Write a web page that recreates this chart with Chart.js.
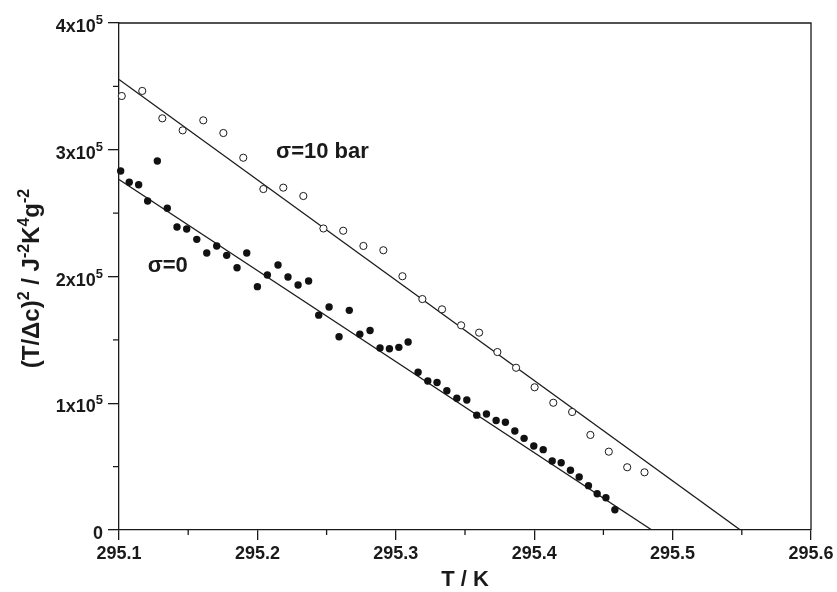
<!DOCTYPE html>
<html>
<head>
<meta charset="utf-8">
<script src="https://cdn.jsdelivr.net/npm/chart.js@4/dist/chart.umd.min.js"></script>
<style>
  html, body { margin: 0; padding: 0; background: #fff; }
  #wrap { width: 837px; height: 592px; }
</style>
</head>
<body>
<div id="wrap"><canvas id="chart" width="837" height="592"></canvas></div>
<script>
'use strict';

// sigma = 10 bar (open circles)
const tempOpen = [295.1020, 295.1168, 295.1313, 295.1460, 295.1609, 295.1754, 295.1898,
  295.2043, 295.2187, 295.2332, 295.2477, 295.2620, 295.2766, 295.2910, 295.3048,
  295.3192, 295.3334, 295.3472, 295.3602, 295.3734, 295.3869, 295.4003, 295.4138,
  295.4274, 295.4406, 295.4539, 295.4672, 295.4797];
const valOpen = [3.424e5, 3.464e5, 3.248e5, 3.153e5, 3.232e5, 3.132e5, 2.937e5,
  2.690e5, 2.701e5, 2.635e5, 2.379e5, 2.361e5, 2.241e5, 2.207e5, 2.002e5,
  1.822e5, 1.741e5, 1.615e5, 1.557e5, 1.404e5, 1.280e5, 1.126e5, 1.004e5,
  0.931e5, 0.750e5, 0.618e5, 0.495e5, 0.455e5];

// sigma = 0 (filled circles)
const tempFilled = [295.1012, 295.1074, 295.1142, 295.1207, 295.1277, 295.1349, 295.1419,
  295.1489, 295.1562, 295.1634, 295.1706, 295.1778, 295.1853, 295.1923, 295.2000,
  295.2072, 295.2149, 295.2221, 295.2294, 295.2370, 295.2443, 295.2518, 295.2590,
  295.2664, 295.2740, 295.2814, 295.2886, 295.2954, 295.3022, 295.3089, 295.3161,
  295.3231, 295.3298, 295.3369, 295.3441, 295.3513, 295.3585, 295.3655, 295.3725,
  295.3792, 295.3860, 295.3927, 295.3997, 295.4065, 295.4130, 295.4195, 295.4262,
  295.4325, 295.4392, 295.4455, 295.4518, 295.4583];
const valFilled = [2.832e5, 2.743e5, 2.724e5, 2.596e5, 2.911e5, 2.538e5, 2.391e5,
  2.375e5, 2.293e5, 2.185e5, 2.241e5, 2.167e5, 2.069e5, 2.185e5, 1.920e5,
  2.012e5, 2.091e5, 1.996e5, 1.933e5, 1.964e5, 1.695e5, 1.759e5, 1.525e5,
  1.733e5, 1.545e5, 1.574e5, 1.436e5, 1.430e5, 1.441e5, 1.483e5, 1.244e5,
  1.176e5, 1.164e5, 1.099e5, 1.040e5, 1.026e5, 0.906e5, 0.915e5, 0.864e5,
  0.850e5, 0.781e5, 0.723e5, 0.663e5, 0.634e5, 0.544e5, 0.531e5, 0.471e5,
  0.418e5, 0.350e5, 0.286e5, 0.255e5, 0.160e5];

// fitted straight lines
const fitOpenT = [295.1, 295.549];
const fitOpenV = [3.555e5, 0];
const fitFilledT = [295.1, 295.485];
const fitFilledV = [2.765e5, 0];

// ticks
const xMinor = [295.15, 295.25, 295.35, 295.45, 295.55];
const yMajor = [0, 1e5, 2e5, 3e5, 4e5];
const yMinor = [0.5e5, 1.5e5, 2.5e5, 3.5e5];
const yTickLabels = [['0', ''], ['1x10', '5'], ['2x10', '5'], ['3x10', '5'], ['4x10', '5']];

const FONT = '"Liberation Sans", Arial, Helvetica, sans-serif';
const INK = '#1a1a1a';

function pts(xs, ys) {
  return xs.map((x, i) => ({ x: x, y: ys[i] }));
}

function isMajor(v) {
  return Math.abs(v * 10 - Math.round(v * 10)) < 1e-6;
}

// text with superscripts on an alphabetic baseline; segs = [[text, isSup], ...]
function drawRich(ctx, segs, x, y, align, size, supSize, raise) {
  let total = 0;
  const widths = segs.map(s => {
    ctx.font = 'bold ' + (s[1] ? supSize : size) + 'px ' + FONT;
    const w = ctx.measureText(s[0]).width;
    total += w;
    return w;
  });
  let cx = x;
  if (align === 'right') cx = x - total;
  if (align === 'center') cx = x - total / 2;
  ctx.textAlign = 'left';
  ctx.textBaseline = 'alphabetic';
  segs.forEach((s, i) => {
    ctx.font = 'bold ' + (s[1] ? supSize : size) + 'px ' + FONT;
    ctx.fillText(s[0], cx, s[1] ? y - raise : y);
    cx += widths[i];
  });
}

const decorPlugin = {
  id: 'decor',
  afterDraw(chart) {
    const ctx = chart.ctx;
    const a = chart.chartArea;
    const xs = chart.scales.x;
    const ys = chart.scales.y;
    ctx.save();
    ctx.strokeStyle = INK;
    ctx.fillStyle = INK;
    ctx.lineWidth = 1.3;

    // top and right frame
    ctx.beginPath();
    ctx.moveTo(a.left, a.top);
    ctx.lineTo(a.right, a.top);
    ctx.lineTo(a.right, a.bottom);
    ctx.stroke();

    // minor ticks
    ctx.beginPath();
    xMinor.forEach(v => {
      const px = xs.getPixelForValue(v);
      ctx.moveTo(px, a.bottom);
      ctx.lineTo(px, a.bottom + 5);
    });
    yMinor.forEach(v => {
      const py = ys.getPixelForValue(v);
      ctx.moveTo(a.left - 6, py);
      ctx.lineTo(a.left, py);
    });
    ctx.stroke();

    // y tick labels with exponents
    yMajor.forEach((v, i) => {
      const py = ys.getPixelForValue(v);
      const lab = yTickLabels[i];
      const segs = [[lab[0], false]];
      if (lab[1]) segs.push([lab[1], true]);
      drawRich(ctx, segs, a.left - 16, py + 9, 'right', 18, 13, 8);
    });

    // y axis title (rotated, baseline on the right)
    ctx.save();
    ctx.translate(39, (a.top + a.bottom) / 2 + 2);
    ctx.rotate(-Math.PI / 2);
    drawRich(ctx, [['(T/\u0394c)', false], ['2', true], [' / J', false], ['-2', true],
      ['K', false], ['4', true], ['g', false], ['-2', true]], 0, 0, 'center', 24, 16, 10);
    ctx.restore();

    // x axis title
    drawRich(ctx, [['T / K', false]], (a.left + a.right) / 2, 586, 'center', 22, 14, 8);

    // series annotations
    drawRich(ctx, [['\u03c3=10 bar', false]], xs.getPixelForValue(295.2135),
      ys.getPixelForValue(3.0e5) + 8, 'left', 22, 15, 8);
    drawRich(ctx, [['\u03c3=0', false]], xs.getPixelForValue(295.1207),
      ys.getPixelForValue(2.10e5) + 8, 'left', 22, 15, 8);

    ctx.restore();
  }
};

const config = {
  type: 'scatter',
  data: {
    datasets: [
      {
        label: 'fit 10 bar',
        type: 'line',
        data: pts(fitOpenT, fitOpenV),
        borderColor: INK,
        borderWidth: 1.3,
        pointRadius: 0,
        fill: false,
        order: 3
      },
      {
        label: 'fit 0',
        type: 'line',
        data: pts(fitFilledT, fitFilledV),
        borderColor: INK,
        borderWidth: 1.3,
        pointRadius: 0,
        fill: false,
        order: 3
      },
      {
        label: 'sigma=10 bar',
        data: pts(tempOpen, valOpen),
        pointRadius: 3.6,
        pointBackgroundColor: '#fff',
        pointBorderColor: INK,
        pointBorderWidth: 1,
        clip: false,
        order: 1
      },
      {
        label: 'sigma=0',
        data: pts(tempFilled, valFilled),
        pointRadius: 3.7,
        pointBackgroundColor: '#111',
        pointBorderColor: '#111',
        pointBorderWidth: 0,
        clip: false,
        order: 1
      }
    ]
  },
  options: {
    responsive: false,
    animation: false,
    devicePixelRatio: 1,
    layout: { padding: { top: 23, right: 26, left: 0, bottom: 0 } },
    plugins: {
      legend: { display: false },
      tooltip: { enabled: false }
    },
    scales: {
      x: {
        type: 'linear',
        min: 295.1,
        max: 295.6,
        border: { display: true, color: INK, width: 1.3 },
        grid: {
          drawOnChartArea: false,
          drawTicks: true,
          tickLength: 10,
          lineWidth: 1.3,
          color: c => (isMajor(c.tick.value) ? INK : 'rgba(0,0,0,0)')
        },
        ticks: {
          stepSize: 0.05,
          autoSkip: false,
          maxRotation: 0,
          padding: 3,
          color: INK,
          font: { family: FONT, size: 18, weight: 'bold' },
          callback: v => (isMajor(v) ? v.toFixed(1) : '')
        },
        afterFit: s => { s.height = 62; }
      },
      y: {
        type: 'linear',
        min: 0,
        max: 4e5,
        border: { display: true, color: INK, width: 1.3 },
        grid: {
          drawOnChartArea: false,
          drawTicks: true,
          tickLength: 11,
          lineWidth: 1.3,
          color: INK
        },
        ticks: {
          stepSize: 1e5,
          callback: () => ''
        },
        afterFit: s => { s.width = 119; }
      }
    }
  },
  plugins: [decorPlugin]
};

new Chart(document.getElementById('chart').getContext('2d'), config);
</script>
</body>
</html>
